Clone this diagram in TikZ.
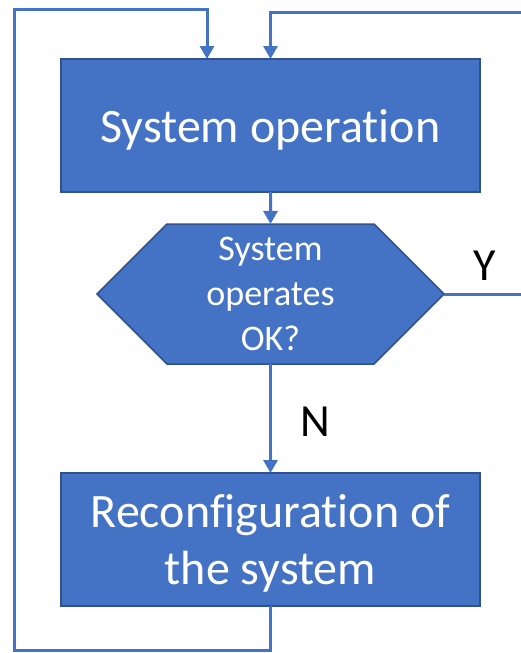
\documentclass[tikz,border=0pt]{standalone}
\usepackage{fontspec}
\setmainfont{Carlito}[Ligatures=CommonOff]
\usepackage{tikz}
\usetikzlibrary{positioning, arrows.meta, shapes.symbols}
\definecolor{boxblue}{HTML}{4472C4}
\definecolor{boxedge}{HTML}{2F528F}

\begin{document}
\begin{tikzpicture}[x=1pt, y=-1pt,
        stage/.style={rectangle,draw=boxedge,fill=boxblue,line width=2pt,outer sep=0pt,minimum width=419pt,minimum height=133pt,text depth=0pt,text=white,align=center,font=\fontsize{48}{57}\selectfont},
        decide/.style={signal,signal to=east and west,signal pointer angle=90,draw=boxedge,fill=boxblue,line width=1.5pt,outer sep=0pt,inner sep=0pt,minimum width=347pt,minimum height=140pt,text=white,align=center,font=\fontsize{36}{45}\selectfont},
        answer/.style={inner sep=0pt,text=black,font=\fontsize{46}{46}\selectfont}]
        \useasboundingbox (0,0) rectangle (521,653);

        \node[stage](op) at (270.5,125.5){System operation};
        \node[decide](ok)[below = 32pt of op]{System\\operates\\OK?};
        \node[stage](re)[below = 109pt of ok]{Reconfiguration of\\the system};

        \coordinate (lbot) at (14,650);
        \coordinate (ltop) at (207,9);
        \coordinate (rtop) at (524,12);

        \path[->, draw, boxblue, line width=3pt, >={Triangle[width=14pt,length=13pt]}]
        (op) edge (ok)
        (ok) edge node[answer, right = 28pt, yshift=-3pt] {N} (re);
        \draw[->, boxblue, line width=3pt, >={Triangle[width=14pt,length=13pt]}]
        (re.south) |- (lbot) |- (ltop) -- (ltop |- op.north);
        \draw[->, boxblue, line width=3pt, >={Triangle[width=14pt,length=13pt]}]
        (ok.east) -| node[answer, pos=.255, above = 12pt] {Y} (rtop) -| (op.north);
    \end{tikzpicture}
\end{document}
